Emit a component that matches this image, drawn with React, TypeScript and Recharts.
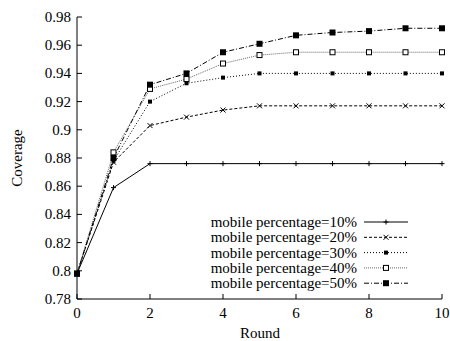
import { LineChart, Line, XAxis, YAxis } from "recharts";

const rounds = [0, 1, 2, 3, 4, 5, 6, 7, 8, 9, 10];
const pct10 = [0.798, 0.859, 0.876, 0.876, 0.876, 0.876, 0.876, 0.876, 0.876, 0.876, 0.876];
const pct20 = [0.798, 0.877, 0.903, 0.909, 0.914, 0.917, 0.917, 0.917, 0.917, 0.917, 0.917];
const pct30 = [0.798, 0.878, 0.92, 0.933, 0.937, 0.94, 0.94, 0.94, 0.94, 0.94, 0.94];
const pct40 = [0.798, 0.884, 0.929, 0.936, 0.947, 0.953, 0.955, 0.955, 0.955, 0.955, 0.955];
const pct50 = [0.798, 0.88, 0.932, 0.94, 0.955, 0.961, 0.967, 0.969, 0.97, 0.972, 0.972];

const xTicks = [0, 2, 4, 6, 8, 10];
const yTicks = [0.78, 0.8, 0.82, 0.84, 0.86, 0.88, 0.9, 0.92, 0.94, 0.96, 0.98];

const FONT = "'Liberation Serif', 'Times New Roman', serif";

type Marker = "plus" | "cross" | "star" | "box" | "fbox";

const series: { key: string; name: string; dash?: string; marker: Marker; stroke: string }[] = [
  { key: "p10", name: "mobile percentage=10%", marker: "plus", stroke: "#000" },
  { key: "p20", name: "mobile percentage=20%", dash: "3 2", marker: "cross", stroke: "#000" },
  { key: "p30", name: "mobile percentage=30%", dash: "1 2", marker: "star", stroke: "#000" },
  { key: "p40", name: "mobile percentage=40%", dash: "1 1", marker: "box", stroke: "#666" },
  { key: "p50", name: "mobile percentage=50%", dash: "5 2 1 2", marker: "fbox", stroke: "#000" },
];

const data = rounds.map((r, i) => ({
  round: r,
  p10: pct10[i],
  p20: pct20[i],
  p30: pct30[i],
  p40: pct40[i],
  p50: pct50[i],
}));

function markerShape(kind: Marker, cx: number, cy: number, key?: any) {
  switch (kind) {
    case "plus":
      return (
        <g key={key}>
          <line x1={cx - 2.5} y1={cy} x2={cx + 2.5} y2={cy} stroke="#000" />
          <line x1={cx} y1={cy - 2.5} x2={cx} y2={cy + 2.5} stroke="#000" />
        </g>
      );
    case "cross":
      return (
        <g key={key}>
          <line x1={cx - 2.5} y1={cy - 2.5} x2={cx + 2.5} y2={cy + 2.5} stroke="#000" />
          <line x1={cx - 2.5} y1={cy + 2.5} x2={cx + 2.5} y2={cy - 2.5} stroke="#000" />
        </g>
      );
    case "star":
      return <rect key={key} x={cx - 2} y={cy - 2} width={4} height={4} fill="#000" />;
    case "box":
      return <rect key={key} x={cx - 2.5} y={cy - 2.5} width={5} height={5} fill="#fff" stroke="#000" />;
    default:
      return <rect key={key} x={cx - 3} y={cy - 3} width={6} height={6} fill="#000" />;
  }
}

const fmt = (v: number) => String(+v.toFixed(2));

function BottomTick({ x, y, payload }: any) {
  return (
    <g>
      <line x1={x} y1={y} x2={x} y2={y - 5} stroke="#000" />
      <text x={x} y={y + 19} textAnchor="middle" fontFamily={FONT} fontSize={15} fill="#000">
        {payload.value}
      </text>
    </g>
  );
}

function TopTick({ x, y }: any) {
  return <line x1={x} y1={y} x2={x} y2={y + 5} stroke="#000" />;
}

function LeftTick({ x, y, payload }: any) {
  return (
    <g>
      <line x1={x} y1={y} x2={x + 5} y2={y} stroke="#000" />
      <text x={x - 6} y={y + 5} textAnchor="end" fontFamily={FONT} fontSize={15} fill="#000">
        {fmt(payload.value)}
      </text>
    </g>
  );
}

function RightTick({ x, y }: any) {
  return <line x1={x} y1={y} x2={x - 5} y2={y} stroke="#000" />;
}

export default function App() {
  return (
    <div style={{ position: "absolute", left: 0, top: 0, width: 450, height: 341, background: "#fff" }}>
      <LineChart width={450} height={341} data={data} margin={{ top: 17, right: 8, bottom: 12, left: 0 }}>
        <XAxis
          dataKey="round"
          type="number"
          domain={[0, 10]}
          ticks={xTicks}
          height={30}
          tickSize={0}
          tickMargin={0}
          tickLine={false}
          axisLine={{ stroke: "#000" }}
          tick={<BottomTick />}
          interval={0}
        />
        <XAxis
          xAxisId="top"
          orientation="top"
          dataKey="round"
          type="number"
          domain={[0, 10]}
          ticks={xTicks}
          height={0}
          tickSize={0}
          tickMargin={0}
          tickLine={false}
          axisLine={{ stroke: "#000" }}
          tick={<TopTick />}
          interval={0}
        />
        <YAxis
          type="number"
          domain={[0.78, 0.98]}
          ticks={yTicks}
          width={77}
          tickSize={0}
          tickMargin={0}
          tickLine={false}
          axisLine={{ stroke: "#000" }}
          tick={<LeftTick />}
          interval={0}
          allowDataOverflow
        />
        <YAxis
          yAxisId="right"
          orientation="right"
          type="number"
          domain={[0.78, 0.98]}
          ticks={yTicks}
          width={0}
          tickSize={0}
          tickMargin={0}
          tickLine={false}
          axisLine={{ stroke: "#000" }}
          tick={<RightTick />}
          interval={0}
        />
        {series.map((s) => (
          <Line
            key={s.key}
            dataKey={s.key}
            name={s.name}
            type="linear"
            stroke={s.stroke}
            strokeWidth={1}
            strokeDasharray={s.dash}
            dot={(p: any) => markerShape(s.marker, p.cx, p.cy, p.index)}
            activeDot={false}
            isAnimationActive={false}
          />
        ))}
      </LineChart>
      <svg width={450} height={341} style={{ position: "absolute", left: 0, top: 0, pointerEvents: "none" }}>
        {series.map((s, i) => {
          const y = 222 + i * 15.3;
          return (
            <g key={s.key}>
              <text x={357} y={y + 5} textAnchor="end" fontFamily={FONT} fontSize={15} fill="#000">
                {s.name}
              </text>
              <line x1={364} y1={y} x2={408} y2={y} stroke={s.stroke} strokeDasharray={s.dash} />
              {markerShape(s.marker, 386, y)}
            </g>
          );
        })}
        <text x={260} y={338} textAnchor="middle" fontFamily={FONT} fontSize={15} fill="#000">
          Round
        </text>
        <text
          x={0}
          y={0}
          transform="translate(22,158) rotate(-90)"
          textAnchor="middle"
          fontFamily={FONT}
          fontSize={15}
          fill="#000"
        >
          Coverage
        </text>
      </svg>
    </div>
  );
}
